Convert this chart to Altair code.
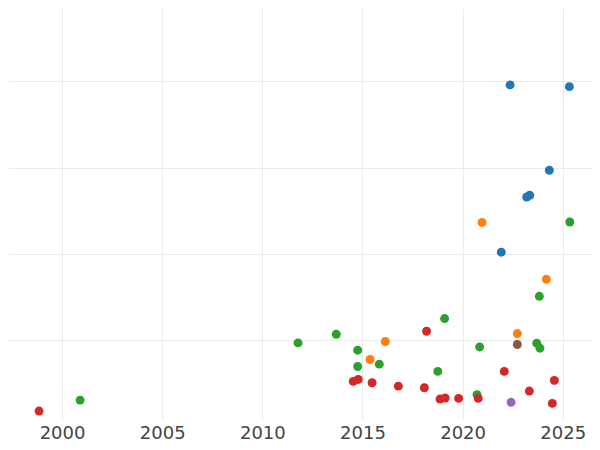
import altair as alt
import pandas as pd

# Series (colour groups) and their points
series = ["A", "B", "C", "D", "E", "F"]
colors = ["#1f77b4", "#ff7f0e", "#2ca02c", "#d62728", "#9467bd", "#8c564b"]

a_year = [2021.93, 2022.37, 2023.20, 2023.35, 2024.33, 2025.33]
a_val = [2.02, 3.96, 2.66, 2.68, 2.97, 3.94]

b_year = [2015.38, 2016.14, 2020.97, 2022.73, 2024.18]
b_val = [0.775, 0.984, 2.365, 1.076, 1.705]

c_year = [2000.90, 2011.78, 2013.69, 2014.76, 2014.76, 2015.84, 2018.76, 2019.10,
          2020.72, 2020.85, 2023.70, 2023.86, 2023.83, 2025.35]
c_val = [0.304, 0.968, 1.068, 0.883, 0.694, 0.721, 0.637, 1.250,
         0.366, 0.921, 0.964, 0.906, 1.508, 2.370]

d_year = [1998.85, 2014.54, 2014.79, 2015.48, 2016.79, 2018.09, 2018.20, 2018.87,
          2019.13, 2019.80, 2020.78, 2022.08, 2023.33, 2024.48, 2024.58]
d_val = [0.177, 0.521, 0.544, 0.505, 0.466, 0.447, 1.103, 0.316,
         0.328, 0.324, 0.324, 0.637, 0.409, 0.266, 0.532]

e_year = [2022.42]
e_val = [0.278]

f_year = [2022.73]
f_val = [0.949]

x_ticks = [2000, 2005, 2010, 2015, 2020, 2025]
y_ticks = [1, 2, 3, 4]

rows = []
for name, ys, vs in zip(series, [a_year, b_year, c_year, d_year, e_year, f_year],
                        [a_val, b_val, c_val, d_val, e_val, f_val]):
    for y, v in zip(ys, vs):
        rows.append({"year": y, "value": v, "series": name})
df = pd.DataFrame(rows)

chart = alt.Chart(df).mark_circle(size=80, opacity=1).encode(
    x=alt.X("year:Q",
            scale=alt.Scale(domain=[1997.30, 2026.46], nice=False, zero=False),
            axis=alt.Axis(values=x_ticks, format="d", title=None, domain=False,
                          ticks=False, tickSize=0, labelPadding=4,
                          labelFontSize=18, labelColor="#444444",
                          labelFont="DejaVu Sans", gridColor="#ebebeb",
                          gridWidth=1)),
    y=alt.Y("value:Q",
            scale=alt.Scale(domain=[0.0732, 4.852], nice=False, zero=False),
            axis=alt.Axis(values=y_ticks, labels=False, title=None, domain=False,
                          ticks=False, tickSize=0, gridColor="#ebebeb",
                          gridWidth=1)),
    color=alt.Color("series:N", scale=alt.Scale(domain=series, range=colors),
                    legend=None),
).properties(
    width=584, height=412, padding=0
).configure_view(stroke=None)

chart.save("out.html", embed_options={"renderer": "svg", "actions": False})
